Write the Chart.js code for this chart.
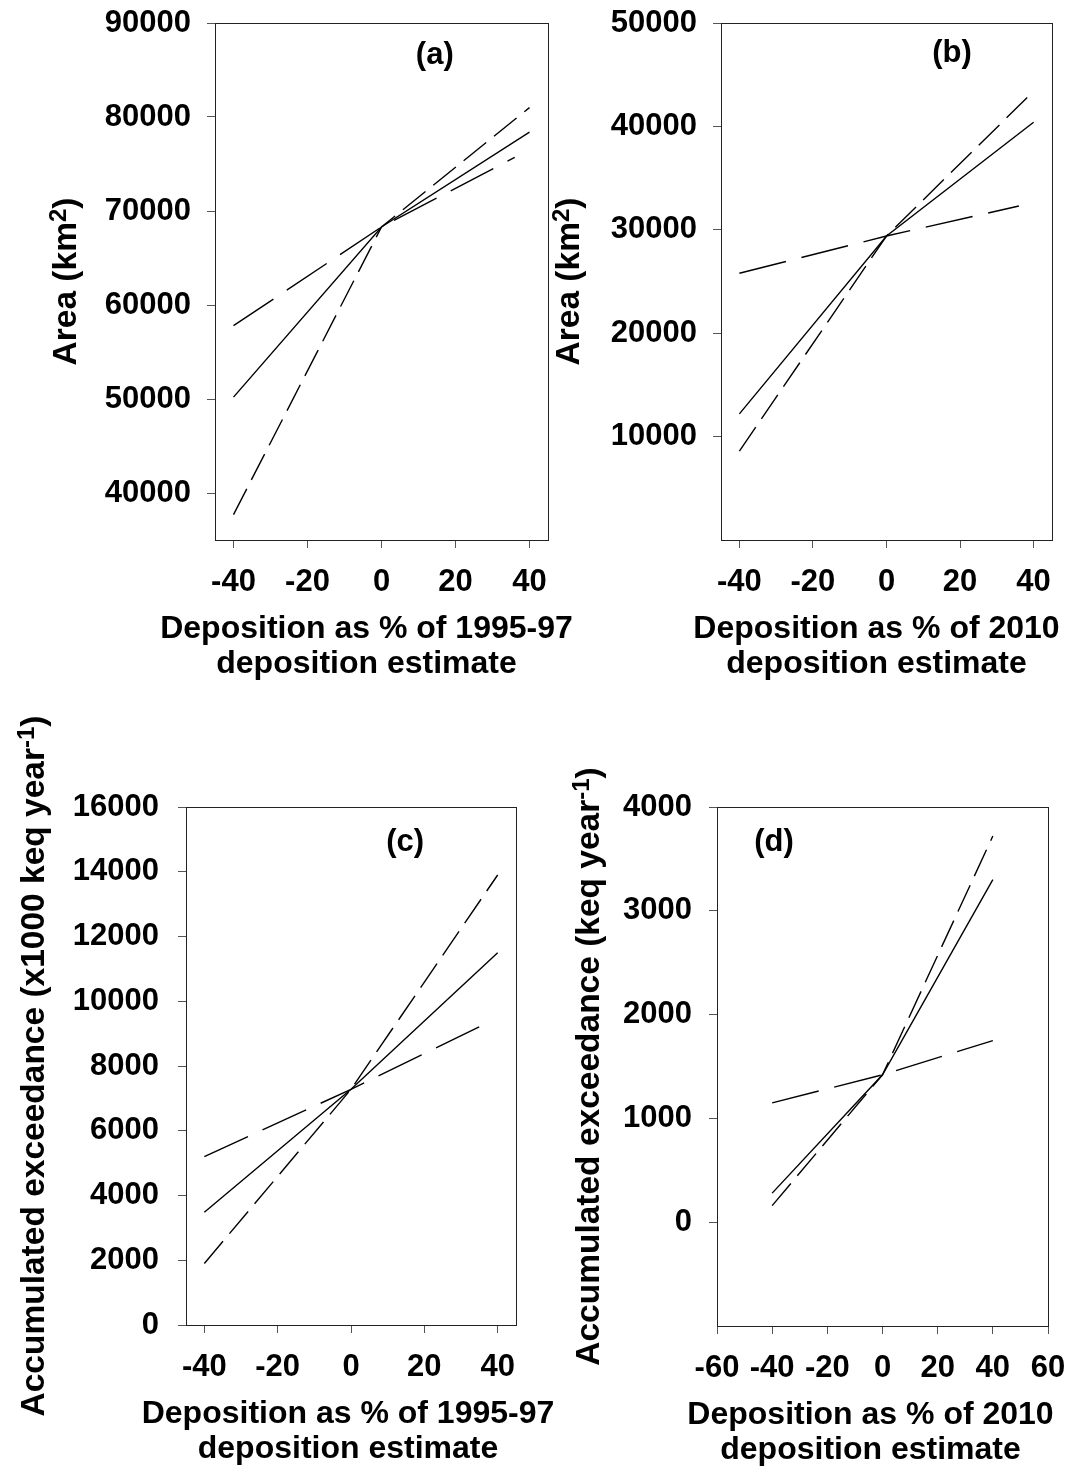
<!DOCTYPE html>
<html><head><meta charset="utf-8">
<script src="https://cdn.jsdelivr.net/npm/chart.js@4.4.1/dist/chart.umd.min.js"></script>
<style>
html,body{margin:0;padding:0;background:#fff;}
#wrap{position:relative;width:1080px;height:1470px;background:#fff;}
canvas{position:absolute;left:0;top:0;}
</style></head><body>
<div id="wrap">
<canvas id="ca" width="1080" height="1470"></canvas>
<canvas id="cb" width="1080" height="1470"></canvas>
<canvas id="cc" width="1080" height="1470"></canvas>
<canvas id="cd" width="1080" height="1470"></canvas>
</div>
<script>
// ---- data ----
const xThree = [-40, 0, 40];
const xLongABC = [-40, 0, 36];
const xLongD = [-40, 0, 40];

const aSolid = [50200, 68300, 78400];
const aShortDash = [37700, 68300, 81000];
const aLongDash = [57800, 68300, 75700];

const bSolid = [12200, 29400, 40400];
const bShortDash = [8600, 29400, 43400];
const bLongDash = [25800, 29400, 32300];

const cSolid = [3480, 7280, 11500];
const cShortDash = [1900, 7280, 13900];
const cLongDash = [5200, 7280, 9270];

const dSolid = [280, 1420, 3300];
const dShortDash = [160, 1420, 3720];
const dLongDash = [1150, 1420, 1750];

const xTicksABC = [-40, -20, 0, 20, 40];
const xTicksD = [-60, -40, -20, 0, 20, 40, 60];
const yTicksA = [40000, 50000, 60000, 70000, 80000, 90000];
const yTicksB = [10000, 20000, 30000, 40000, 50000];
const yTicksC = [0, 2000, 4000, 6000, 8000, 10000, 12000, 14000, 16000];
const yTicksD = [0, 1000, 2000, 3000, 4000];

const panelLabels = ['(a)', '(b)', '(c)', '(d)'];
const xTitleA = ['Deposition as % of 1995-97', 'deposition estimate'];
const xTitleB = ['Deposition as % of 2010', 'deposition estimate'];
// y titles: [text, isSuperscript]
const yTitleAB = [['Area (km', false], ['2', true], [')', false]];
const yTitleC = [['Accumulated exceedance (x1000 keq year', false], ['-1', true], [')', false]];
const yTitleD = [['Accumulated exceedance (keq year', false], ['-1', true], [')', false]];

// ---- styling ----
const FAMILY = '"Liberation Sans", Arial, Helvetica, sans-serif';
const FONT = {family: FAMILY, size: 31, weight: 'bold', lineHeight: 1.13};
const TITLE_PX = 32;
const YTITLE_PX = 33.5;
const SUP_PX = 24;
const SUP_RAISE = 10;
const SOLID = [];
const SHORT = [29, 10];
const LONG = [48, 16];

const decor = {
  id: 'decor',
  afterDatasetsDraw(chart, args, o) {
    const {ctx, chartArea: a} = chart;
    ctx.save();
    ctx.strokeStyle = '#222';
    ctx.lineWidth = 1;
    ctx.strokeRect(Math.round(a.left) + 0.5, Math.round(a.top) + 0.5, Math.round(a.right - a.left), Math.round(a.bottom - a.top));
    ctx.fillStyle = '#000';
    ctx.font = 'bold 31px ' + FAMILY;
    ctx.textAlign = 'center';
    ctx.textBaseline = 'middle';
    ctx.fillText(o.text, a.left + o.fx * (a.right - a.left), a.top + o.fy * (a.bottom - a.top));
    ctx.restore();
  },
  afterDraw(chart, args, o) {
    const {ctx, chartArea: a} = chart;
    ctx.save();
    ctx.fillStyle = '#000';
    // x-axis title (two lines)
    ctx.font = 'bold ' + TITLE_PX + 'px ' + FAMILY;
    ctx.textAlign = 'center';
    ctx.textBaseline = 'middle';
    const cx = (a.left + a.right) / 2 + o.xdx;
    o.xTitle.forEach((line, i) => ctx.fillText(line, cx, a.bottom + 89 + i * 35));
    // y-axis title with superscript, rotated
    const cy = (a.top + a.bottom) / 2;
    ctx.translate(o.yBase, cy);
    ctx.rotate(-Math.PI / 2);
    ctx.textAlign = 'left';
    ctx.textBaseline = 'alphabetic';
    const fontOf = s => 'bold ' + (s[1] ? SUP_PX : YTITLE_PX) + 'px ' + FAMILY;
    let total = 0;
    o.yTitle.forEach(s => { ctx.font = fontOf(s); total += ctx.measureText(s[0]).width; });
    let x = -total / 2;
    o.yTitle.forEach(s => {
      ctx.font = fontOf(s);
      ctx.fillText(s[0], x, s[1] ? -SUP_RAISE : 0);
      x += ctx.measureText(s[0]).width;
    });
    ctx.restore();
  }
};

function series(xs, ys, dash) {
  return {
    data: xs.map((x, i) => ({x: x, y: ys[i]})),
    showLine: true,
    borderColor: '#000',
    borderWidth: 1.4,
    borderDash: dash,
    pointRadius: 0,
    tension: 0,
    fill: false
  };
}

function makeChart(id, p) {
  return new Chart(document.getElementById(id), {
    type: 'scatter',
    data: {datasets: p.datasets},
    plugins: [decor],
    options: {
      responsive: false,
      animation: false,
      events: [],
      layout: {padding: p.pad},
      plugins: {legend: {display: false}, tooltip: {enabled: false}, decor: p.decor},
      scales: {
        x: {
          type: 'linear', min: p.xmin, max: p.xmax,
          afterBuildTicks: s => { s.ticks = p.xTicks.map(v => ({value: v})); },
          afterFit: s => { s.height = p.xh; s.paddingLeft = 0; s.paddingRight = 0; },
          grid: {drawOnChartArea: false, drawTicks: true, tickLength: 8, color: '#555', lineWidth: 1},
          border: {display: false},
          ticks: {font: FONT, color: '#000', padding: 17, maxRotation: 0, autoSkip: false, callback: v => String(v)},
          title: {display: false}
        },
        y: {
          type: 'linear', min: p.ymin, max: p.ymax,
          afterBuildTicks: s => { s.ticks = p.yTicks.map(v => ({value: v})); },
          afterFit: s => { s.width = p.yw; s.paddingTop = 0; s.paddingBottom = 0; },
          grid: {drawOnChartArea: false, drawTicks: true, tickLength: 8, color: '#555', lineWidth: 1},
          border: {display: false},
          ticks: {font: FONT, color: '#000', padding: p.ypad, autoSkip: false, callback: v => String(v)},
          title: {display: false}
        }
      }
    }
  });
}

makeChart('ca', {
  datasets: [series(xThree, aSolid, SOLID), series(xThree, aShortDash, SHORT), series(xLongABC, aLongDash, LONG)],
  pad: {left: 52, right: 532, top: 23, bottom: 787},
  xh: 143, yw: 163, ypad: 16,
  xmin: -45, xmax: 45, ymin: 35000, ymax: 90000,
  xTicks: xTicksABC, yTicks: yTicksA,
  decor: {text: panelLabels[0], fx: 0.66, fy: 0.062, xTitle: xTitleA, xdx: -15, yTitle: yTitleAB, yBase: 76}
});

makeChart('cb', {
  datasets: [series(xThree, bSolid, SOLID), series(xThree, bShortDash, SHORT), series(xLongABC, bLongDash, LONG)],
  pad: {left: 547, right: 28, top: 23, bottom: 787},
  xh: 143, yw: 174, ypad: 16,
  xmin: -45, xmax: 45, ymin: 0, ymax: 50000,
  xTicks: xTicksABC, yTicks: yTicksB,
  decor: {text: panelLabels[1], fx: 0.698, fy: 0.058, xTitle: xTitleB, xdx: -10, yTitle: yTitleAB, yBase: 579}
});

makeChart('cc', {
  datasets: [series(xThree, cSolid, SOLID), series(xThree, cShortDash, SHORT), series(xLongABC, cLongDash, LONG)],
  pad: {left: 20, right: 564, top: 807, bottom: 4},
  xh: 141, yw: 166, ypad: 19,
  xmin: -45, xmax: 45, ymin: 0, ymax: 16000,
  xTicks: xTicksABC, yTicks: yTicksC,
  decor: {text: panelLabels[2], fx: 0.664, fy: 0.068, xTitle: xTitleA, xdx: -3, yTitle: yTitleC, yBase: 44}
});

makeChart('cd', {
  datasets: [series(xThree, dSolid, SOLID), series(xThree, dShortDash, SHORT), series(xLongD, dLongDash, LONG)],
  pad: {left: 572, right: 32, top: 807, bottom: 4},
  xh: 140, yw: 145, ypad: 17,
  xmin: -60, xmax: 60, ymin: -1000, ymax: 4000,
  xTicks: xTicksD, yTicks: yTicksD,
  decor: {text: panelLabels[3], fx: 0.172, fy: 0.068, xTitle: xTitleB, xdx: -12, yTitle: yTitleD, yBase: 599}
});
</script>
</body></html>
